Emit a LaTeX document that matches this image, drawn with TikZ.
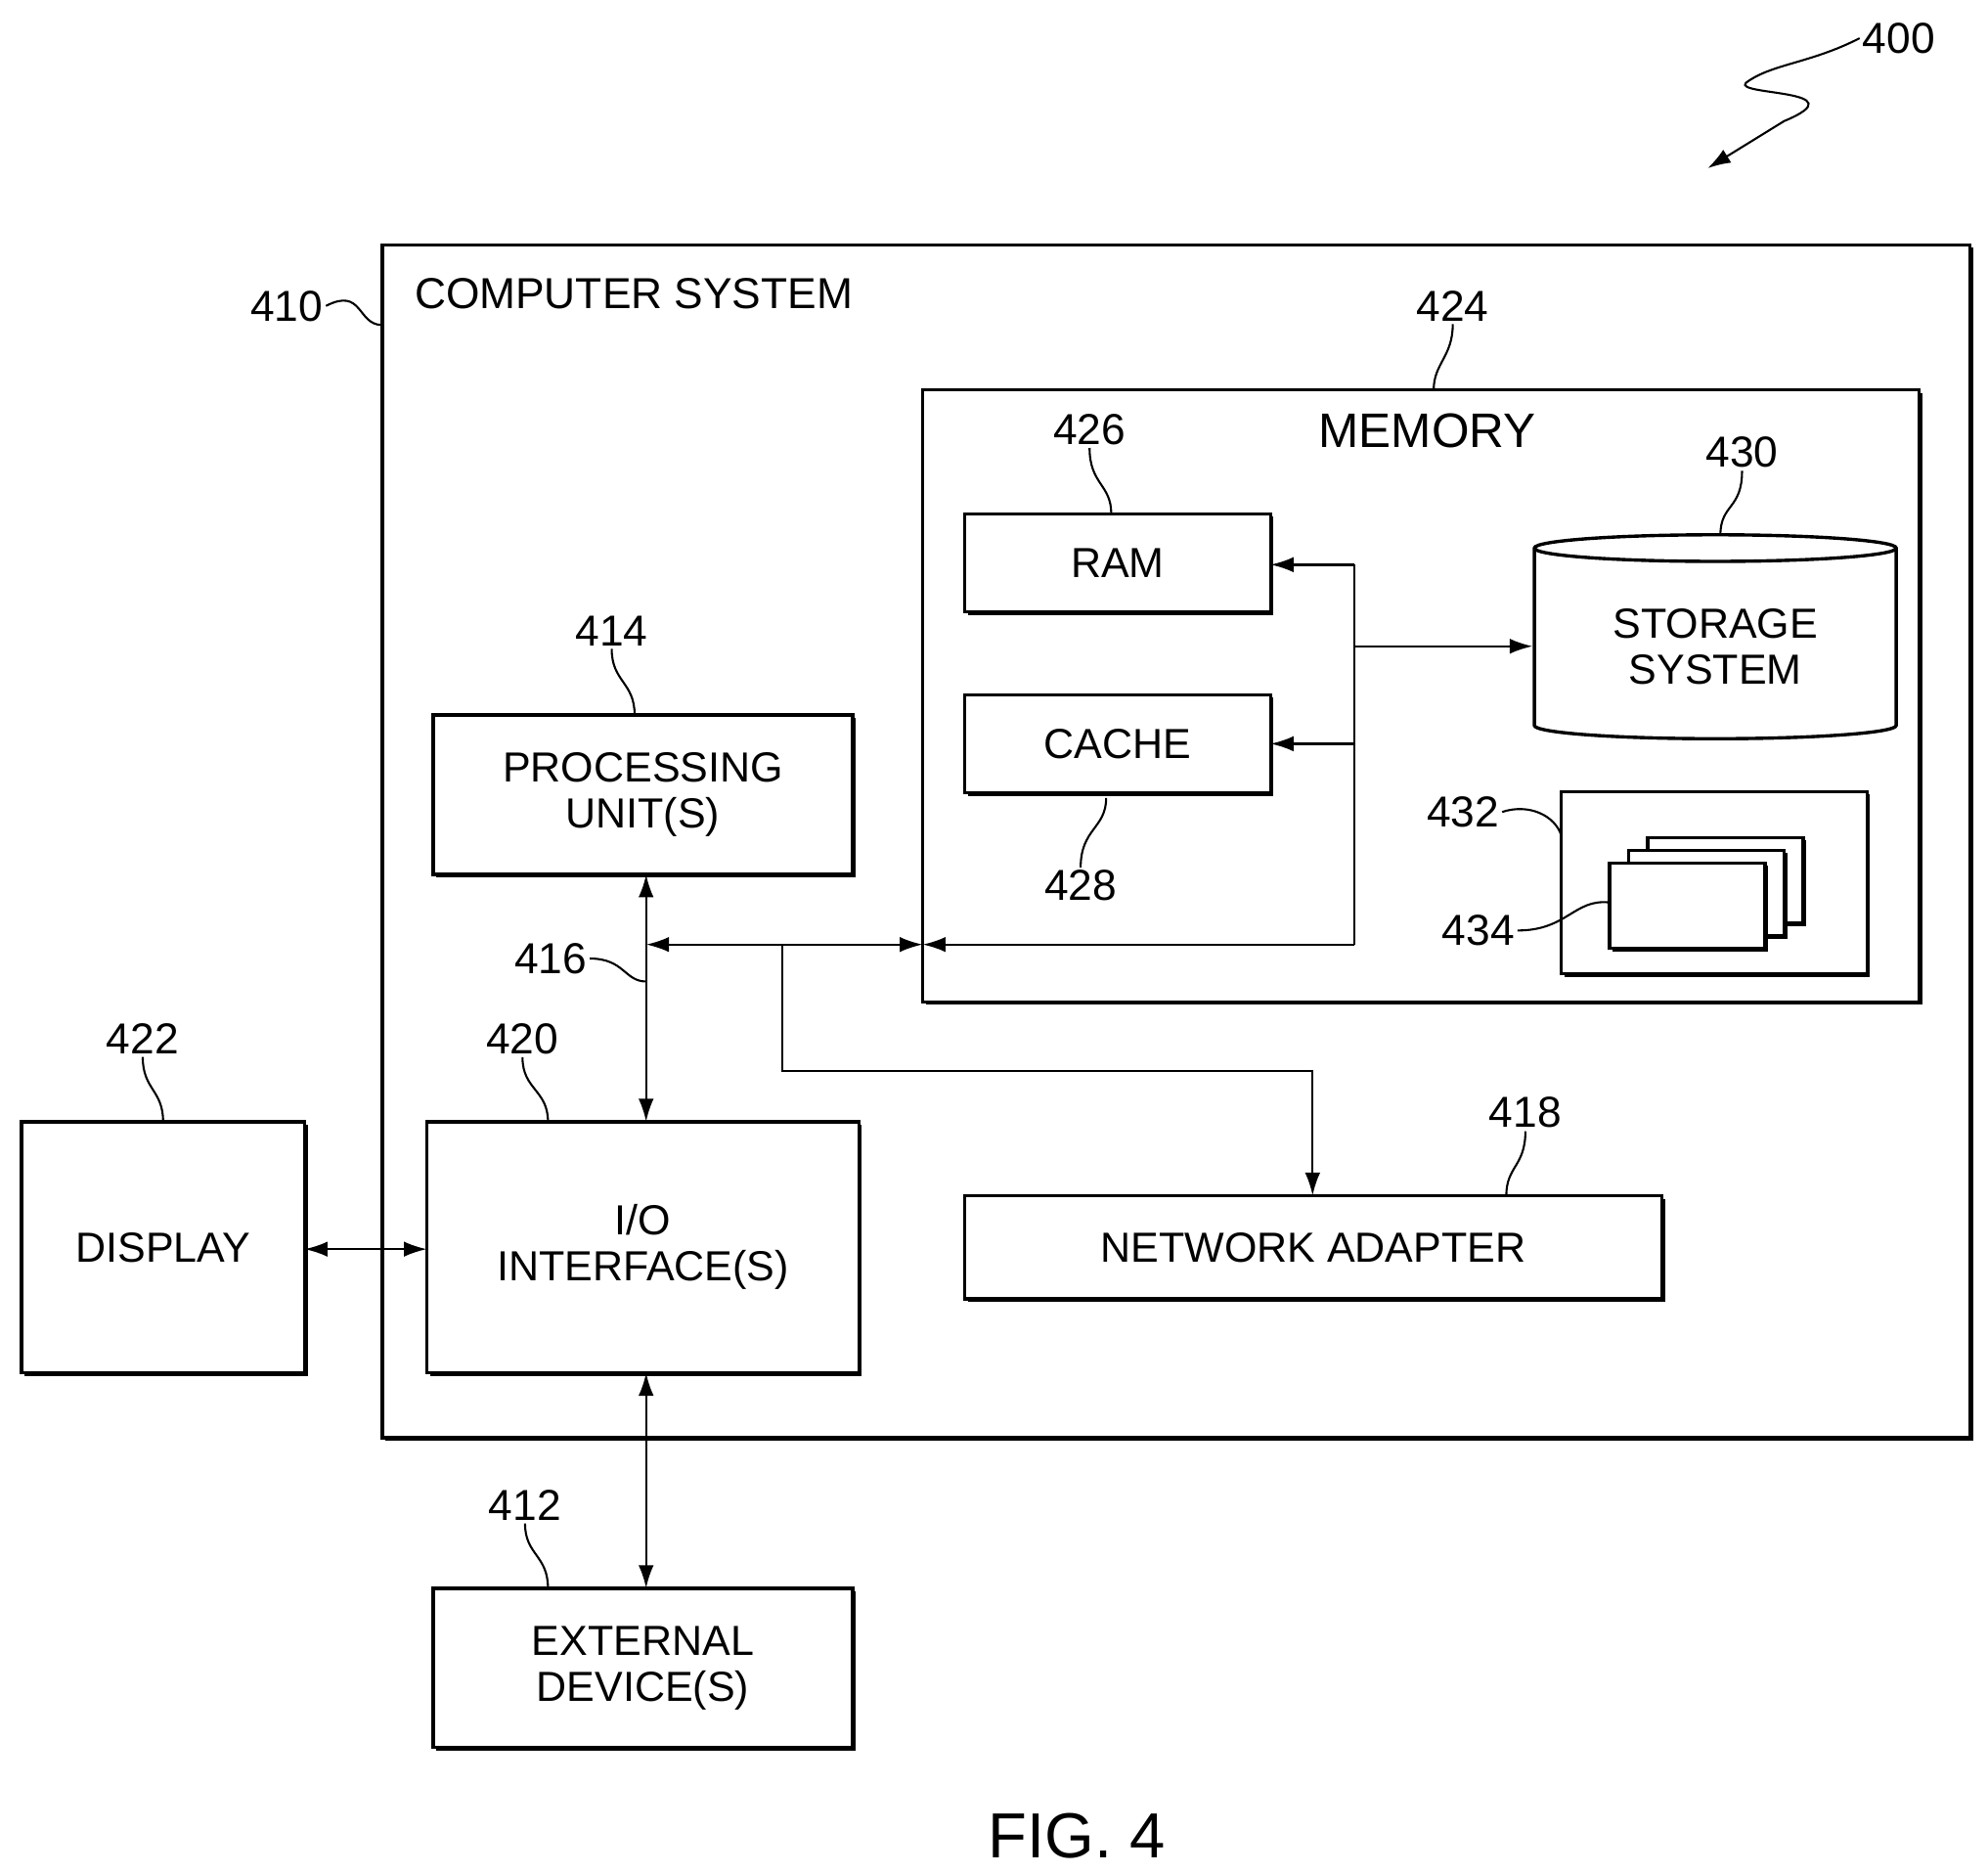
\documentclass[tikz,border=0pt]{standalone}
\usepackage{fontspec}
\setmainfont{Liberation Sans}
\usetikzlibrary{arrows.meta,shapes.geometric,shadows,calc}

\tikzset{
  box/.style={draw, line width=1.3pt, fill=white, inner sep=0pt, outer sep=0pt,
    drop shadow={shadow xshift=1.2pt, shadow yshift=-1.2pt, fill=black, opacity=1}},
  lbl/.style={font=\fontsize{17}{19}\selectfont, inner sep=1pt},
  btxt/.style={font=\fontsize{16.5}{18}\selectfont, align=center},
  bus/.style={line width=0.9pt},
  tip/.style={-{Latex[length=9pt,width=6pt]}},
  lead/.style={line width=0.8pt}
}

\begin{document}
\begin{tikzpicture}[x=0.5pt,y=-0.5pt]
\useasboundingbox (0,0) rectangle (1560,1469);

% outer boxes
\node[box, minimum width=623pt, minimum height=468pt, anchor=north west] (sys) at (300,192) {};
\node[lbl, anchor=west] (syslbl) at (323,230) {COMPUTER SYSTEM};
\node[box, minimum width=391pt, minimum height=240pt, anchor=north west] (mem) at (724,306) {};
\node[lbl, font=\fontsize{19}{21}\selectfont] (memlbl) at (1120,338) {MEMORY};

% memory contents
\node[box, minimum width=120pt, minimum height=38.5pt, anchor=north west, btxt] (ram) at (757,403) {RAM};
\node[box, minimum width=120pt, minimum height=38.5pt, anchor=north west, btxt] (cache) at (757,545) {CACHE};
\node[cylinder, shape border rotate=90, draw, line width=1.3pt, aspect=0.12,
  minimum width=142pt, minimum height=80pt, btxt] (stor) at (1346,507) {STORAGE\\SYSTEM};
\node[box, minimum width=120pt, minimum height=71.5pt, anchor=north west] (prog) at (1225,621) {};
\foreach \i in {2,1,0}
  \node[box, minimum width=61pt, minimum height=33.5pt, anchor=north west] (mod\i) at (1263+15*\i,677-10*\i) {};

% other units
\node[box, minimum width=164.5pt, minimum height=62.5pt, anchor=north west, btxt] (cpu) at (340,561) {PROCESSING\\UNIT(S)};
\node[box, minimum width=169.5pt, minimum height=98.5pt, anchor=north west, btxt] (io) at (335,880) {I/O\\INTERFACE(S)};
\node[box, minimum width=111pt, minimum height=98.5pt, anchor=north west, btxt] (disp) at (17,880) {DISPLAY};
\node[box, minimum width=273.5pt, minimum height=40.5pt, anchor=north west, btxt] (net) at (757,938) {NETWORK ADAPTER};
\node[box, minimum width=164.5pt, minimum height=62.5pt, anchor=north west, btxt] (ext) at (340,1246) {EXTERNAL\\DEVICE(S)};

% bus
\coordinate (busL) at (507,741);
\coordinate (busM) at (614,741);
\coordinate (busR) at (1063,741);
\coordinate (busT) at (1063,443);
\draw[bus, {Latex[length=9pt,width=6pt]}-{Latex[length=9pt,width=6pt]}] (busL) -- (mem.west |- busL);
\draw[bus, tip] (busR) -- (mem.west |- busR);
\draw[bus] (busT) -- (busR);
\draw[bus, tip] (busT) -- (ram.east |- busT);
\draw[bus, tip] (busT |- cache.east) -- (cache.east);
\draw[bus, tip] (1063,507) -- (stor.west |- 0,507);
\draw[bus, {Latex[length=9pt,width=6pt]}-{Latex[length=9pt,width=6pt]}] (cpu.south -| busL) -- (io.north -| busL);
\draw[bus, tip] (busM) -- (614,840) -- (1030,840) -- (net.north -| 1030,0);
\draw[bus, {Latex[length=9pt,width=6pt]}-{Latex[length=9pt,width=6pt]}] (disp.east |- 0,980) -- (io.west |- 0,980);
\draw[bus, {Latex[length=9pt,width=6pt]}-{Latex[length=9pt,width=6pt]}] (io.south -| busL) -- (ext.north -| busL);

% reference numerals
\node[lbl] (n400) at (1490,30) {400};
\draw[lead, {Latex[length=9pt,width=6pt]}-] (1340,132) -- (1400,95) .. controls (1460,70) and (1360,75) .. (1370,65) .. controls (1390,50) and (1420,50) .. (n400.west);
\node[lbl] (n410) at (225,240) {410};
\draw[lead] (n410.east) .. controls (285,225) and (280,255) .. (sys.north west |- 0,255);
\node[lbl] (n424) at (1140,240) {424};
\draw[lead] (n424.south) .. controls (1140,280) and (1125,285) .. (1125,306);
\node[lbl] (n426) at (855,337) {426};
\draw[lead] (n426.south) .. controls (855,380) and (872,380) .. (872,403);
\node[lbl] (n428) at (848,695) {428};
\draw[lead] (n428.north) .. controls (848,650) and (868,650) .. (868,626);
\node[lbl] (n430) at (1367,355) {430};
\draw[lead] (n430.south) .. controls (1367,400) and (1350,395) .. (1350,420);
\node[lbl] (n432) at (1148,637) {432};
\draw[lead] (n432.east) .. controls (1200,630) and (1220,640) .. (prog.north west |- 0,655);
\node[lbl] (n434) at (1160,730) {434};
\draw[lead] (n434.east) .. controls (1230,730) and (1235,705) .. (mod0.west |- 0,708);
\node[lbl] (n414) at (480,495) {414};
\draw[lead] (n414.south) .. controls (480,535) and (498,535) .. (498,561);
\node[lbl] (n416) at (432,752) {416};
\draw[lead] (n416.east) .. controls (490,752) and (490,770) .. (507,770);
\node[lbl] (n418) at (1197,873) {418};
\draw[lead] (n418.south) .. controls (1197,915) and (1182,915) .. (1182,938);
\node[lbl] (n420) at (410,815) {420};
\draw[lead] (n420.south) .. controls (410,855) and (430,855) .. (430,880);
\node[lbl] (n422) at (112,815) {422};
\draw[lead] (n422.south) .. controls (112,855) and (128,855) .. (128,880);
\node[lbl] (n412) at (412,1181) {412};
\draw[lead] (n412.south) .. controls (412,1220) and (430,1220) .. (430,1246);

\node[font=\fontsize{25}{28}\selectfont] (fig) at (845,1440) {FIG. 4};
\end{tikzpicture}
\end{document}
